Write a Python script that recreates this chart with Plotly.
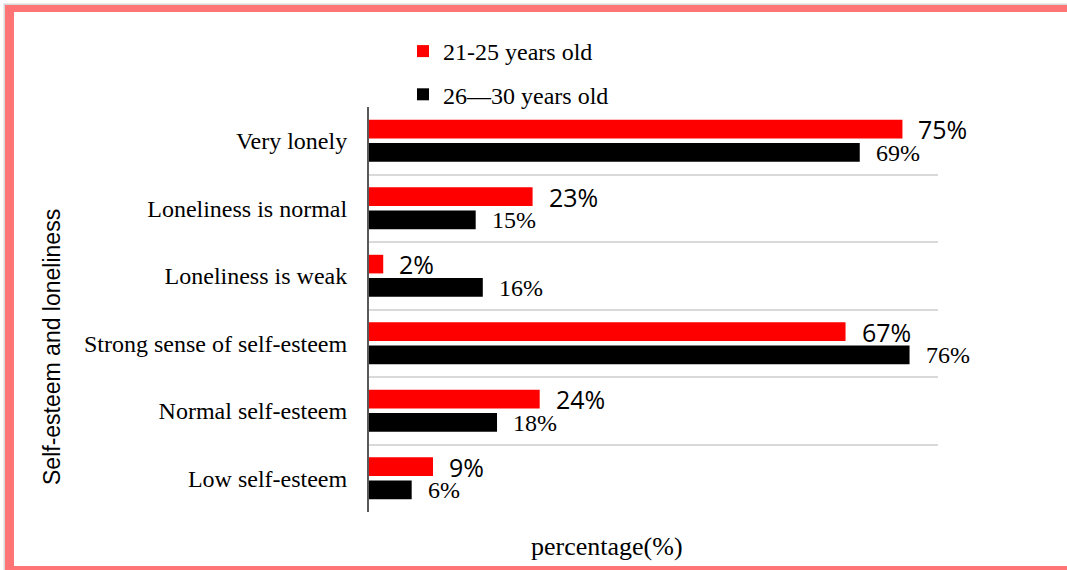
import plotly.graph_objects as go

categories = ["Very lonely", "Loneliness is normal", "Loneliness is weak",
              "Strong sense of self-esteem", "Normal self-esteem", "Low self-esteem"]
age_21_25 = [75, 23, 2, 67, 24, 9]
age_26_30 = [69, 15, 16, 76, 18, 6]
series_names = ["21-25 years old", "26\u201430 years old"]

W, H = 1067, 570
L, R, T, B = 369, 938, 107, 512


def fx(px):
    return (px - L) / (R - L)


def fy(py):
    return (B - py) / (B - T)


fig = go.Figure()
fig.add_trace(go.Bar(y=categories, x=age_21_25, orientation="h", name=series_names[0],
                     marker=dict(color="#FF0000", line=dict(width=0)), legendgroup="a"))
fig.add_trace(go.Bar(y=categories, x=age_26_30, orientation="h", name=series_names[1],
                     marker=dict(color="#000000", line=dict(width=0)), legendgroup="b"))

annotations = []
for c, v in zip(categories, age_21_25):
    annotations.append(dict(x=v, y=c, xref="x", yref="y", text=f"{v}%", showarrow=False,
                            xanchor="left", yanchor="middle", xshift=14, yshift=11.5,
                            font=dict(family="Open Sans", size=25, color="#000000")))
for c, v in zip(categories, age_26_30):
    annotations.append(dict(x=v, y=c, xref="x", yref="y", text=f"{v}%", showarrow=False,
                            xanchor="left", yanchor="middle", xshift=14, yshift=-12,
                            font=dict(family="Liberation Serif", size=24, color="#000000")))

annotations.append(dict(x=fx(607), y=fy(546), xref="paper", yref="paper",
                        text="percentage(%)", showarrow=False, xanchor="center", yanchor="middle",
                        font=dict(family="Liberation Serif", size=26, color="#000000")))
annotations.append(dict(x=fx(52), y=fy(347), xref="paper", yref="paper",
                        text="Self-esteem and loneliness", showarrow=False, textangle=-90,
                        xanchor="center", yanchor="middle",
                        font=dict(family="Liberation Sans", size=23, color="#000000")))

red = "#FF7575"
gray = "#D9D9D9"
shapes = [
    dict(type="rect", xref="paper", yref="paper", x0=fx(3.5), x1=fx(5), y0=fy(580), y1=fy(3.5),
         fillcolor=gray, line=dict(width=0)),
    dict(type="rect", xref="paper", yref="paper", x0=fx(3.5), x1=fx(1080), y0=fy(5), y1=fy(3.5),
         fillcolor=gray, line=dict(width=0)),
    dict(type="rect", xref="paper", yref="paper", x0=fx(5), x1=fx(14), y0=fy(580), y1=fy(5),
         fillcolor=red, line=dict(width=0)),
    dict(type="rect", xref="paper", yref="paper", x0=fx(5), x1=fx(1080), y0=fy(12), y1=fy(5),
         fillcolor=red, line=dict(width=0)),
    dict(type="rect", xref="paper", yref="paper", x0=fx(5), x1=fx(1080), y0=fy(580), y1=fy(566),
         fillcolor=red, line=dict(width=0)),
]

fig.update_layout(
    width=W, height=H,
    margin=dict(l=L, r=W - R, t=T, b=H - B, pad=0),
    paper_bgcolor="white", plot_bgcolor="white",
    barmode="group", bargap=0.31, bargroupgap=0.2,
    showlegend=True,
    legend=dict(x=fx(403), y=fy(29), xanchor="left", yanchor="top",
                orientation="v", traceorder="grouped", tracegroupgap=9,
                font=dict(family="Liberation Serif", size=24, color="#000000"),
                bgcolor="rgba(0,0,0,0)", borderwidth=0),
    xaxis=dict(range=[0, 80], showticklabels=False, showgrid=False, zeroline=False,
               showline=False, ticks=""),
    yaxis=dict(categoryorder="array", categoryarray=categories, autorange="reversed",
               tickson="boundaries", showgrid=True, gridcolor=gray, gridwidth=1.5,
               showline=True, linecolor="#595959", linewidth=2, ticks="",
               ticklabelstandoff=15, zeroline=False,
               tickfont=dict(family="Liberation Serif", size=24, color="#000000")),
    annotations=annotations,
    shapes=shapes,
)

fig.write_html("out.html")
